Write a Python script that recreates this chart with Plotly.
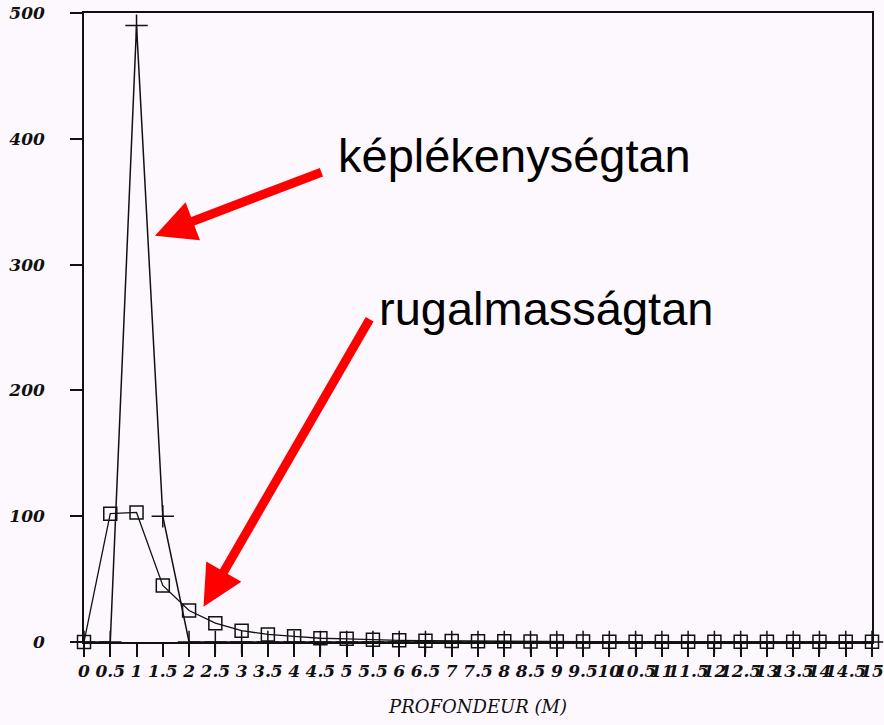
import plotly.graph_objects as go

depth_labels = ["0", "0.5", "1", "1.5", "2", "2.5", "3", "3.5", "4", "4.5", "5",
                "5.5", "6", "6.5", "7", "7.5", "8", "8.5", "9", "9.5", "10",
                "10.5", "11", "11.5", "12", "12.5", "13", "13.5", "14", "14.5", "15"]
plastic = [0, 0, 490, 100, 0, 0, 0, 0, 0, 0, 0,
           0, 0, 0, 0, 0, 0, 0, 0, 0, 0,
           0, 0, 0, 0, 0, 0, 0, 0, 0, 0]
elastic = [0, 102, 103, 45, 25, 15, 9, 6, 4.5, 3, 2.5,
           1.8, 1.3, 1, 0.8, 0.6, 0.5, 0.4, 0.3, 0.3, 0.2,
           0.2, 0.2, 0.1, 0.1, 0.1, 0.1, 0.1, 0.1, 0.1, 0.1]
y_ticks = [0, 100, 200, 300, 400, 500]

idx = list(range(len(depth_labels)))
bg = "#fdf8fd"
tickfont = dict(family="DejaVu Serif", size=17, color="#111", style="italic", weight="bold")

fig = go.Figure()
fig.add_trace(go.Scatter(
    x=idx, y=plastic, mode="lines+markers", cliponaxis=False,
    line=dict(color="#111", width=1.5),
    marker=dict(symbol="cross-thin-open", size=16, line=dict(color="#111", width=1.5)),
    showlegend=False))
fig.add_trace(go.Scatter(
    x=idx, y=elastic, mode="lines+markers", cliponaxis=False,
    line=dict(color="#111", width=1.3),
    marker=dict(symbol="square-open", size=13, color="#111", line=dict(color="#111", width=1.5)),
    showlegend=False))

fig.add_annotation(x=2.7, y=323, xref="x", yref="y", ax=168, ay=-64,
                   showarrow=True, arrowhead=2, arrowsize=0.9, arrowwidth=9,
                   arrowcolor="#ff0000", text="")
fig.add_annotation(x=4.55, y=28, xref="x", yref="y", ax=167, ay=-289,
                   showarrow=True, arrowhead=2, arrowsize=0.9, arrowwidth=9,
                   arrowcolor="#ff0000", text="")
fig.add_annotation(x=(336 - 84) / 788, y=(642 - 155) / 629, xref="paper", yref="paper",
                   xanchor="left", yanchor="middle", showarrow=False,
                   text="képlékenységtan",
                   font=dict(family="Liberation Sans, Arial", size=47, color="#000"))
fig.add_annotation(x=(377 - 84) / 788, y=(642 - 308) / 629, xref="paper", yref="paper",
                   xanchor="left", yanchor="middle", showarrow=False,
                   text="rugalmasságtan",
                   font=dict(family="Liberation Sans, Arial", size=47, color="#000"))

fig.update_layout(
    width=884, height=725,
    margin=dict(l=84, r=12, t=13, b=83),
    paper_bgcolor=bg, plot_bgcolor=bg,
    xaxis=dict(range=[0, 30], tickmode="array", tickvals=idx, ticktext=depth_labels,
               automargin=False, ticklabeloverflow="allow",
               showline=True, linecolor="#111", linewidth=1.5, mirror=True,
               ticks="outside", ticklen=13, tickcolor="#111", tickwidth=1.5,
               tickangle=0, showgrid=False, zeroline=False, tickfont=tickfont,
               title=dict(text="PROFONDEUR (M)", standoff=20,
                          font=dict(family="DejaVu Serif", size=18, color="#111", style="italic"))),
    yaxis=dict(range=[0, 500], tickmode="array", tickvals=y_ticks,
               automargin=False, ticklabeloverflow="allow",
               showline=True, linecolor="#111", linewidth=1.5, mirror=True,
               ticks="outside", ticklen=12, tickcolor="#111", tickwidth=1.5,
               ticklabelstandoff=22, showgrid=False, zeroline=False, tickfont=tickfont),
)

fig.write_html("out.html", config={"displayModeBar": False},
               post_script="document.body.style.margin='0';document.body.style.overflow='hidden';")
